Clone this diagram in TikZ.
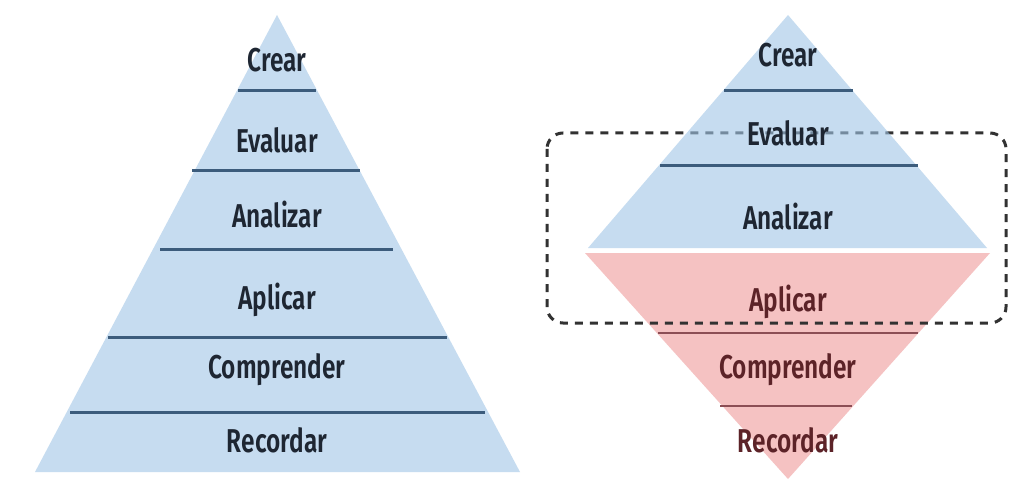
\documentclass[tikz,border=0pt]{standalone}
\usepackage{fontspec}
\newfontfamily\labfont[FakeStretch=0.74]{Fira Sans SemiBold}
\definecolor{pblue}{RGB}{198,220,240}
\definecolor{pbluet}{RGB}{160,197,230}
\definecolor{pline}{RGB}{60,92,124}
\definecolor{ppink}{RGB}{245,194,194}
\definecolor{pinkline}{RGB}{140,78,85}
\definecolor{txtblue}{RGB}{30,38,50}
\definecolor{txtred}{RGB}{92,35,40}
\definecolor{dashgray}{RGB}{50,50,50}
\tikzset{
  lab/.style={font=\labfont\fontsize{33}{35}\selectfont, text=txtblue, inner sep=0pt, anchor=center},
  labred/.style={lab, text=txtred},
  sepblue/.style={draw=pline, line width=3pt},
  seppink/.style={draw=pinkline, line width=2.5pt},
  grouprect/.style={draw=dashgray, line width=3pt, dash pattern=on 8pt off 7pt, rounded corners=16pt}
}
\begin{document}
\begin{tikzpicture}[x=1pt,y=-1pt]
\useasboundingbox[fill=white] (0,0) rectangle (1009,481);
% left pyramid
\fill[pblue] (277,15) -- (520,472) -- (35,472) -- cycle;
\draw[sepblue] (238,91) -- (316,91);
\draw[sepblue] (192,171) -- (360,171);
\draw[sepblue] (160,249) -- (393,249);
\draw[sepblue] (108,337) -- (447,337);
\draw[sepblue] (70,412) -- (485,412);
\node[lab] (l1) at (277,60) {Crear};
\node[lab] (l2) at (277,140) {Evaluar};
\node[lab] (l3) at (277,215) {Analizar};
\node[lab] (l4) at (277,300) {Aplicar};
\node[lab] (l5) at (277,370) {Comprender};
\node[lab] (l6) at (277,440) {Recordar};
% right: inverted pink triangle
\fill[ppink] (585,253) -- (990,253) -- (788,479) -- cycle;
\draw[seppink] (658,333) -- (918,333);
\draw[seppink] (720,406) -- (852,406);
% dashed group
\draw[grouprect] (547,133) rectangle (1006,323);
% right: blue triangle (semi-transparent over the dashes)
\fill[pbluet, fill opacity=0.6] (788,15) -- (987,248) -- (588,248) -- cycle;
\draw[sepblue] (724,91) -- (853,91);
\draw[sepblue] (660,166) -- (918,166);
\node[lab] (r1) at (788,55) {Crear};
\node[lab] (r2) at (788,133) {Evaluar};
\node[lab] (r3) at (788,217) {Analizar};
\node[labred] (r4) at (788,302) {Aplicar};
\node[labred] (r5) at (788,370) {Comprender};
\node[labred] (r6) at (788,440) {Recordar};
\end{tikzpicture}
\end{document}
